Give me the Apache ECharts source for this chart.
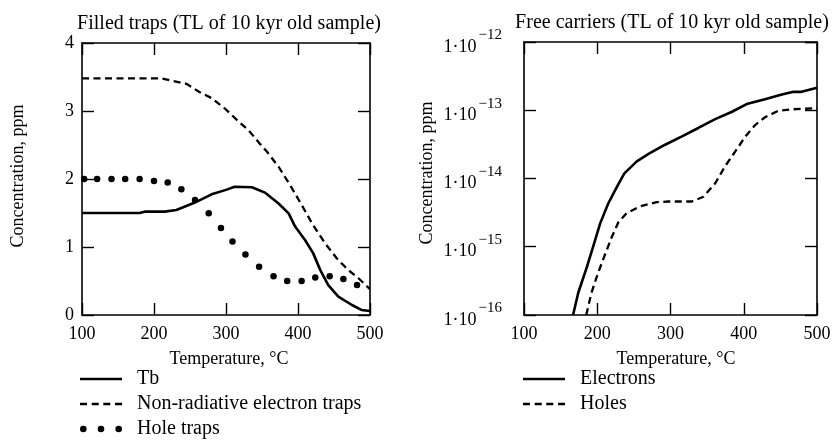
<!DOCTYPE html>
<html>
<head>
<meta charset="utf-8">
<script src="https://cdn.jsdelivr.net/npm/echarts@6/dist/echarts.min.js"></script>
<style>
  html, body { margin: 0; padding: 0; background: #fff; }
  #chart { width: 836px; height: 440px; }
</style>
</head>
<body>
<div id="chart"></div>
<script>
// Filled traps, ppm vs temperature (°C)
const tbPoints = [
  [100, 1.5], [180, 1.5], [187, 1.52], [215, 1.52], [231, 1.545], [256, 1.65],
  [280, 1.775], [300, 1.84], [312, 1.885], [336, 1.878], [354, 1.80], [373, 1.64],
  [387, 1.495], [396, 1.30], [410, 1.10], [421, 0.91], [431, 0.66], [442, 0.44],
  [456, 0.27], [475, 0.147], [488, 0.074], [500, 0.058]
];
const nonRadPoints = [
  [100, 3.48], [210, 3.48], [224, 3.446], [245, 3.40], [263, 3.28], [280, 3.19],
  [298, 3.04], [314, 2.88], [331, 2.72], [347, 2.52], [357, 2.40], [373, 2.18],
  [389, 1.91], [405, 1.62], [421, 1.32], [438, 1.05], [454, 0.83], [470, 0.66],
  [484, 0.54], [500, 0.38]
];
const holeTrapPoints = [
  [103, 2.0], [121, 2.0], [141, 2.0], [160, 2.0], [180, 2.0], [200, 1.97],
  [219, 1.95], [238, 1.85], [257, 1.69], [276, 1.495], [293, 1.28], [309, 1.08],
  [327, 0.89], [346, 0.71], [366, 0.57], [385, 0.50], [405, 0.50], [424, 0.55],
  [444, 0.57], [463, 0.53], [482, 0.44]
];

// Free carriers, ppm vs temperature (°C)
const electronPoints = [
  [167, 1.0e-16], [174, 2.1e-16], [186, 5.1e-16], [195, 1.06e-15], [204, 2.2e-15],
  [215, 4.3e-15], [227, 7.6e-15], [237, 1.19e-14], [254, 1.78e-14], [270, 2.3e-14],
  [292, 3.1e-14], [315, 4.1e-14], [338, 5.5e-14], [361, 7.4e-14], [384, 9.5e-14],
  [404, 1.23e-13], [429, 1.45e-13], [452, 1.7e-13], [468, 1.86e-13], [479, 1.86e-13],
  [500, 2.14e-13]
];
const holePoints = [
  [185, 1.0e-16], [192, 2.1e-16], [201, 4.1e-16], [211, 7.9e-16], [220, 1.4e-15],
  [229, 2.3e-15], [240, 3.1e-15], [258, 3.9e-15], [281, 4.5e-15], [297, 4.6e-15],
  [329, 4.6e-15], [345, 5.4e-15], [361, 8.5e-15], [374, 1.48e-14], [388, 2.45e-14],
  [402, 4.1e-14], [415, 6.0e-14], [429, 7.9e-14], [447, 9.8e-14], [465, 1.03e-13],
  [500, 1.07e-13]
];

const leftTitle = 'Filled traps (TL of 10 kyr old sample)';
const rightTitle = 'Free carriers (TL of 10 kyr old sample)';
const yName = 'Concentration, ppm';
const xName = 'Temperature, \u00B0C';

const FONT = '"Liberation Serif", "Times New Roman", serif';
const INK = '#000';
const DASH = [7, 4.5];

function frameAxis(extra) {
  return Object.assign({
    axisLine: { show: true, onZero: false, lineStyle: { color: INK, width: 1.6 } },
    axisTick: { show: true, inside: true, length: 12, lineStyle: { color: INK, width: 1.4 } },
    splitLine: { show: false },
    axisLabel: { show: false }
  }, extra);
}

const tempAxis = { type: 'value', min: 100, max: 500, interval: 100 };
const tickLabel = { show: true, fontFamily: FONT, fontSize: 18, color: INK };

// legend glyphs: solid stroke, four dashes, three dots
const solidIcon = 'path://M0,0H42V2.6H0Z';
const dashIcon = 'path://M0,0H7V2.3H0Z M11.7,0H18.7V2.3H11.7Z M23.3,0H30.3V2.3H23.3Z M35,0H42V2.3H35Z';
const dotsIcon = 'path://M3,0A3,3 0 1,1 2.99,0Z M19,0A3,3 0 1,1 18.99,0Z M35,0A3,3 0 1,1 34.99,0Z';

const legendText = { fontFamily: FONT, fontSize: 20, color: INK, lineHeight: 20, padding: [0, 0, 0, 10] };

const option = {
  animation: false,
  backgroundColor: '#fff',
  grid: [
    { left: 82, top: 43, width: 288, height: 272 },
    { left: 524, top: 42, width: 293, height: 273 }
  ],
  xAxis: [
    frameAxis(Object.assign({ gridIndex: 0, position: 'bottom',
      axisLabel: Object.assign({ margin: 10 }, tickLabel) }, tempAxis)),
    frameAxis(Object.assign({ gridIndex: 0, position: 'top' }, tempAxis)),
    frameAxis(Object.assign({ gridIndex: 1, position: 'bottom',
      axisLabel: Object.assign({ margin: 10 }, tickLabel) }, tempAxis)),
    frameAxis(Object.assign({ gridIndex: 1, position: 'top' }, tempAxis))
  ],
  yAxis: [
    frameAxis({ gridIndex: 0, type: 'value', min: 0, max: 4, interval: 1, position: 'left',
      axisLabel: Object.assign({ margin: 8 }, tickLabel) }),
    frameAxis({ gridIndex: 0, type: 'value', min: 0, max: 4, interval: 1, position: 'right' }),
    frameAxis({ gridIndex: 1, type: 'log', logBase: 10, min: 1e-16, max: 1e-12, position: 'left',
      axisLabel: {
        show: true,
        margin: 22,
        formatter: function (v) {
          const e = Math.round(Math.log10(v));
          return '{b|1\u00B710}{s|\u2212' + Math.abs(e) + '}';
        },
        rich: {
          b: { fontFamily: FONT, fontSize: 18, color: INK, lineHeight: 18, padding: [10, 0, 0, 0] },
          s: { fontFamily: FONT, fontSize: 15, color: INK, lineHeight: 15, padding: [0, 0, 13, 2] }
        }
      } }),
    frameAxis({ gridIndex: 1, type: 'log', logBase: 10, min: 1e-16, max: 1e-12, position: 'right' })
  ],
  legend: [
    {
      orient: 'vertical', left: 80, top: 369, padding: 0, itemGap: 5,
      itemWidth: 42, itemHeight: 14, textStyle: legendText,
      data: [
        { name: 'Tb', icon: solidIcon },
        { name: 'Non-radiative electron traps', icon: dashIcon },
        { name: 'Hole traps', icon: dotsIcon }
      ]
    },
    {
      orient: 'vertical', left: 523, top: 369, padding: 0, itemGap: 5,
      itemWidth: 42, itemHeight: 14, textStyle: legendText,
      data: [
        { name: 'Electrons', icon: solidIcon },
        { name: 'Holes', icon: dashIcon }
      ]
    }
  ],
  graphic: [
    { type: 'text', x: 229, y: 24, style: { text: leftTitle, font: '20px ' + FONT, fill: INK, textAlign: 'center', textVerticalAlign: 'middle' } },
    { type: 'text', x: 672, y: 23, style: { text: rightTitle, font: '20px ' + FONT, fill: INK, textAlign: 'center', textVerticalAlign: 'middle' } },
    { type: 'text', x: 18, y: 176, rotation: Math.PI / 2, style: { text: yName, font: '18px ' + FONT, fill: INK, textAlign: 'center', textVerticalAlign: 'middle' } },
    { type: 'text', x: 427, y: 173, rotation: Math.PI / 2, style: { text: yName, font: '18px ' + FONT, fill: INK, textAlign: 'center', textVerticalAlign: 'middle' } },
    { type: 'text', x: 229, y: 359, style: { text: xName, font: '18px ' + FONT, fill: INK, textAlign: 'center', textVerticalAlign: 'middle' } },
    { type: 'text', x: 676, y: 359, style: { text: xName, font: '18px ' + FONT, fill: INK, textAlign: 'center', textVerticalAlign: 'middle' } }
  ],
  series: [
    { name: 'Tb', type: 'line', xAxisIndex: 0, yAxisIndex: 0, data: tbPoints,
      symbol: 'none', color: INK, lineStyle: { color: INK, width: 2.6 } },
    { name: 'Non-radiative electron traps', type: 'line', xAxisIndex: 0, yAxisIndex: 0, data: nonRadPoints,
      symbol: 'none', color: INK, lineStyle: { color: INK, width: 2.3, type: DASH } },
    { name: 'Hole traps', type: 'scatter', xAxisIndex: 0, yAxisIndex: 0, data: holeTrapPoints,
      symbol: 'circle', symbolSize: 6.5, color: INK, itemStyle: { color: INK, opacity: 1 } },
    { name: 'Electrons', type: 'line', xAxisIndex: 2, yAxisIndex: 2, data: electronPoints,
      symbol: 'none', color: INK, lineStyle: { color: INK, width: 2.6 } },
    { name: 'Holes', type: 'line', xAxisIndex: 2, yAxisIndex: 2, data: holePoints,
      symbol: 'none', color: INK, lineStyle: { color: INK, width: 2.3, type: DASH } }
  ]
};

const chart = echarts.init(document.getElementById('chart'), null, { renderer: 'canvas' });
chart.setOption(option);
</script>
</body>
</html>
